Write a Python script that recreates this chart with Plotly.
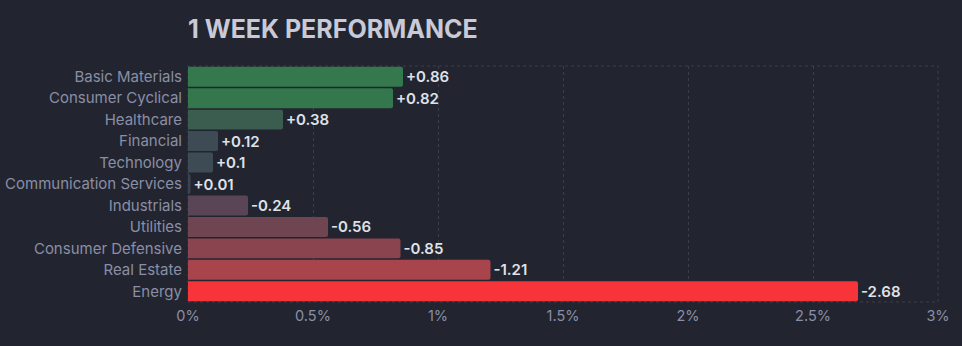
import plotly.graph_objects as go

sectors = ["Basic Materials", "Consumer Cyclical", "Healthcare", "Financial", "Technology",
           "Communication Services", "Industrials", "Utilities", "Consumer Defensive",
           "Real Estate", "Energy"]
changes = [0.86, 0.82, 0.38, 0.12, 0.1, 0.01, -0.24, -0.56, -0.85, -1.21, -2.68]
bar_colors = ["#35784e", "#35774d", "#3a5d4f", "#3d4b55", "#3d4b55", "#3c4350",
              "#5a4556", "#704552", "#8a4450", "#a8444c", "#f6343a"]
x_ticks = [0, 0.5, 1, 1.5, 2, 2.5, 3]
x_tick_labels = ["0%", "0.5%", "1%", "1.5%", "2%", "2.5%", "3%"]

labels = [("+" if v > 0 else "") + f"{v:g}" for v in changes]
mags = [abs(v) for v in changes]

bg = "#22252f"
grid = "#3a3e4b"
fig = go.Figure(go.Bar(
    x=mags, y=sectors, orientation="h",
    marker=dict(color=bar_colors, line=dict(width=0)),
    text=labels, textposition="outside", cliponaxis=False,
    textfont=dict(family="Inter", size=15, color="#dfe1e9", weight=600),
    hoverinfo="skip",
))
fig.update_layout(
    width=962, height=346,
    margin=dict(l=188, r=24, t=66, b=44),
    paper_bgcolor=bg, plot_bgcolor=bg,
    bargap=0.07, barcornerradius=2,
    showlegend=False,
    title=dict(text="1 WEEK PERFORMANCE", x=188/962, xanchor="left",
               y=1-29/346, yanchor="middle", yref="container",
               font=dict(family="Inter", size=25, color="#c8cad8", weight=700)),
    font=dict(family="Inter"),
)
fig.update_xaxes(range=[0, 3], tickvals=x_ticks, ticktext=x_tick_labels,
                 showgrid=True, gridcolor=grid, griddash="3px,3px", gridwidth=1,
                 zeroline=False, showline=False, ticks="", ticklen=0, automargin=False,
                 ticklabelstandoff=3,
                 tickfont=dict(size=14.5, color="#8a8ea6"))
fig.update_yaxes(autorange="reversed", showgrid=False, zeroline=False, showline=False,
                 ticks="", ticklabelstandoff=5, automargin=False,
                 tickfont=dict(size=15, color="#8a8ea6"))
fig.add_shape(type="rect", xref="paper", yref="paper", x0=0, x1=1, y0=0, y1=1,
              line=dict(color=grid, width=1, dash="3px,3px"), layer="below")
fig.write_html("out.html")
